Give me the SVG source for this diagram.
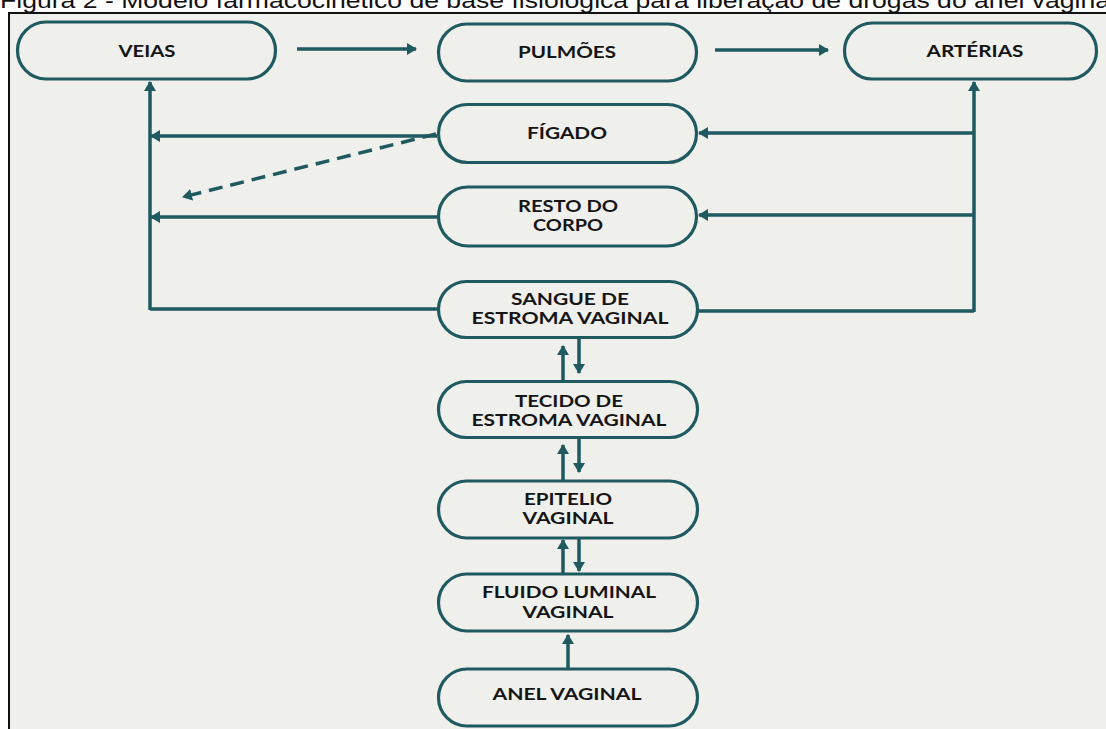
<svg xmlns="http://www.w3.org/2000/svg" width="1106" height="729" viewBox="0 0 1106 729">
<defs>
<style>
.node rect{fill:none;stroke:#1e5a60;stroke-width:3.2}
.node text{font-family:Lato,"Open Sans","Liberation Sans",sans-serif;font-weight:700;font-size:17px;fill:#151515;text-anchor:middle}
.conn line{stroke:#1e5a60;stroke-width:3.5;fill:none}
.conn .arr{marker-end:url(#ah)}
.conn .dash{stroke-dasharray:14 8}
.title{font-family:"Liberation Sans",Arial,sans-serif;font-size:22px;fill:#111}
</style>
<marker id="ah" markerUnits="userSpaceOnUse" viewBox="0 0 10 12" refX="9" refY="6" markerWidth="10" markerHeight="12" orient="auto">
<path d="M0,0 L10,6 L0,12 z" fill="#1e5a60"/>
</marker>
</defs>
<rect x="0" y="0" width="1106" height="729" fill="#ffffff"/>
<text class="title" x="0" y="8" textLength="1116" lengthAdjust="spacingAndGlyphs">Figura 2 - Modelo farmacocinético de base fisiológica para liberação de drogas do anel vaginal</text>
<rect x="9" y="13" width="1110" height="730" fill="#efefec" stroke="#111" stroke-width="2"/>

<g class="conn" id="connectors">
<line class="arr" x1="297" y1="49" x2="416" y2="49"/>
<line class="arr" x1="715" y1="50" x2="828" y2="50"/>
<line class="arr" x1="974" y1="312" x2="974" y2="82"/>
<line class="arr" x1="974" y1="133" x2="699" y2="133"/>
<line class="arr" x1="974" y1="215" x2="699" y2="215"/>
<line x1="974" y1="311" x2="698" y2="311"/>
<line class="arr" x1="150" y1="310" x2="150" y2="82"/>
<line class="arr" x1="437" y1="136" x2="151" y2="136"/>
<line class="arr" x1="437" y1="217" x2="151" y2="217"/>
<line x1="437" y1="309" x2="150" y2="309"/>
<line class="arr dash" x1="436" y1="134" x2="183" y2="197"/>
<line class="arr" x1="563" y1="381" x2="563" y2="346"/>
<line class="arr" x1="579" y1="338" x2="579" y2="373"/>
<line class="arr" x1="563" y1="480" x2="563" y2="445"/>
<line class="arr" x1="579" y1="438" x2="579" y2="472"/>
<line class="arr" x1="563" y1="573" x2="563" y2="540"/>
<line class="arr" x1="579" y1="538" x2="579" y2="571"/>
<line class="arr" x1="568" y1="668" x2="568" y2="635"/>
</g>

<g class="node" id="veias"><rect x="17.5" y="22" width="258" height="57" rx="28.5"/><text x="147" y="57" textLength="57" lengthAdjust="spacingAndGlyphs">VEIAS</text></g>
<g class="node" id="pulmoes"><rect x="438.5" y="24" width="258" height="57" rx="28.5"/><text x="567" y="58" textLength="98" lengthAdjust="spacingAndGlyphs">PULMÕES</text></g>
<g class="node" id="arterias"><rect x="844.5" y="23" width="252" height="56" rx="28"/><text x="975" y="57" textLength="97" lengthAdjust="spacingAndGlyphs">ARTÉRIAS</text></g>
<g class="node" id="figado"><rect x="438.5" y="104.5" width="258" height="58" rx="29"/><text x="567" y="139" textLength="80" lengthAdjust="spacingAndGlyphs">FÍGADO</text></g>
<g class="node" id="resto"><rect x="438.5" y="187" width="258" height="59" rx="29.5"/><text x="568" y="212" textLength="100" lengthAdjust="spacingAndGlyphs">RESTO DO</text><text x="568" y="231" textLength="70" lengthAdjust="spacingAndGlyphs">CORPO</text></g>
<g class="node" id="sangue"><rect x="438.5" y="281.5" width="259" height="56" rx="28"/><text x="570" y="305" textLength="118" lengthAdjust="spacingAndGlyphs">SANGUE DE</text><text x="570" y="324" textLength="197" lengthAdjust="spacingAndGlyphs">ESTROMA VAGINAL</text></g>
<g class="node" id="tecido"><rect x="438.5" y="381.5" width="259" height="56" rx="28"/><text x="569" y="407" textLength="108" lengthAdjust="spacingAndGlyphs">TECIDO DE</text><text x="569" y="426" textLength="195" lengthAdjust="spacingAndGlyphs">ESTROMA VAGINAL</text></g>
<g class="node" id="epitelio"><rect x="438.5" y="481" width="259" height="57" rx="28.5"/><text x="568" y="505" textLength="88" lengthAdjust="spacingAndGlyphs">EPITELIO</text><text x="568" y="524" textLength="91" lengthAdjust="spacingAndGlyphs">VAGINAL</text></g>
<g class="node" id="fluido"><rect x="438.5" y="574" width="259" height="57" rx="28.5"/><text x="569" y="598" textLength="174" lengthAdjust="spacingAndGlyphs">FLUIDO LUMINAL</text><text x="568" y="618" textLength="91" lengthAdjust="spacingAndGlyphs">VAGINAL</text></g>
<g class="node" id="anel"><rect x="438.5" y="669" width="259" height="57" rx="28.5"/><text x="567" y="700" textLength="149" lengthAdjust="spacingAndGlyphs">ANEL VAGINAL</text></g>
</svg>
